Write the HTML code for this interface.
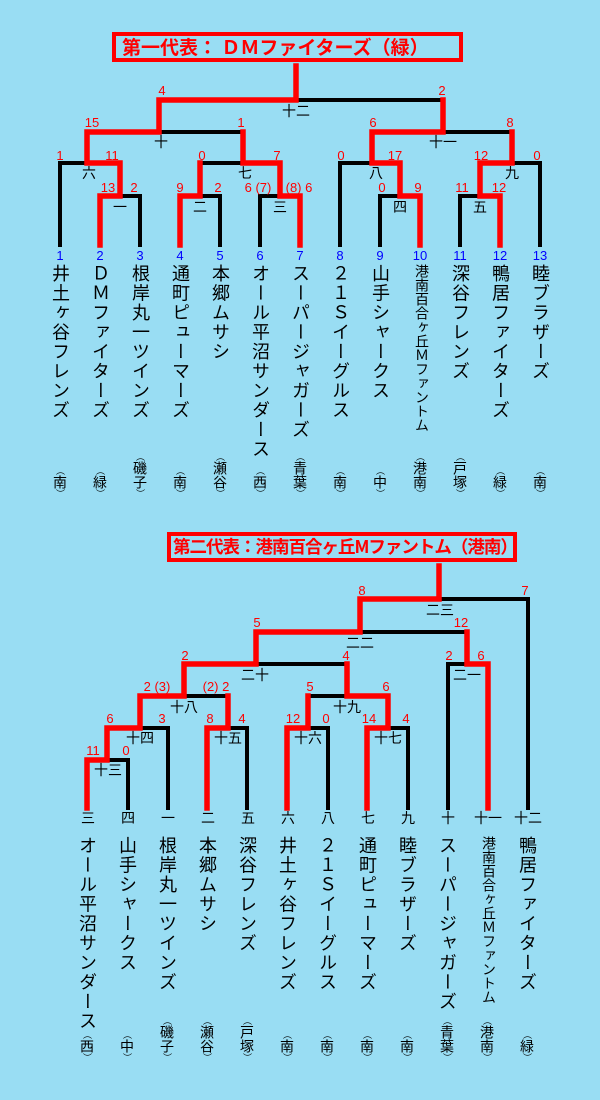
<!DOCTYPE html>
<html><head><meta charset="utf-8">
<style>
body{margin:0;width:600px;height:1100px;background:#99ddf3;position:relative;overflow:hidden;font-family:"Liberation Sans","Noto Sans CJK JP",sans-serif}
svg{position:absolute;left:0;top:0}
.nm{position:absolute;writing-mode:vertical-rl;width:22px;font-size:18px;line-height:22px;color:#000;letter-spacing:1.5px;white-space:nowrap}
.af{position:absolute;writing-mode:vertical-rl;width:18px;font-size:14px;line-height:18px;color:#000;white-space:nowrap}
.af span{font-size:9px}
.title{position:absolute;border:3px solid #f00;outline:1px solid #f00;box-sizing:border-box;color:#f00;font-weight:bold;font-size:19px;line-height:22px;white-space:nowrap;overflow:hidden;font-family:"Noto Sans CJK JP",sans-serif}
</style></head>
<body>
<div class="title" style="left:113px;top:33px;width:349px;height:28px;padding-left:6px">第一代表：&nbsp;ＤＭファイターズ（緑）</div>
<div class="title" style="left:168px;top:533px;width:348px;height:28px;padding-left:2px;font-size:17.5px;letter-spacing:-1px">第二代表：港南百合ヶ丘Mファントム（港南）</div>

<svg width="600" height="1100" fill="none" stroke-linecap="square">
<g stroke="#000" stroke-width="4">
<path d="M296 66V100M159 100H443M159 100V132M443 100V132M87 132H243M372 132H512M87 132V163M243 132V163M372 132V163M512 132V163M60 163H120M200 163H280M340 163H400M480 163H540M60 163V245M120 163V196M200 163V196M280 163V196M340 163V245M400 163V196M480 163V196M540 163V245M100 196H140M180 196H220M260 196H300M380 196H420M460 196H500M100 196V245M140 196V245M180 196V245M220 196V245M260 196V245M300 196V245M380 196V245M420 196V245M460 196V245M500 196V245"/>
<path d="M439 566V599M360 599H528M528 599V808M360 599V632M256 632H467M256 632V664M467 632V664M448 664H488M448 664V808M488 664V808M184 664H347M184 664V696M347 664V696M140 696H228M140 696V728M228 696V728M308 696H388M308 696V728M388 696V728M107 728H168M107 728V760M168 728V808M207 728H247M207 728V808M247 728V808M287 728H328M287 728V808M328 728V808M367 728H408M367 728V808M408 728V808M87 760H128M87 760V808M128 760V808"/>
</g>
<g stroke="#f00" stroke-width="5.5">
<path d="M100 245V196H120V163H87V132H159V100H296V66M180 245V196H200V163M300 245V196H280V163H243V132M420 245V196H400V163H372V132H443V100M500 245V196H480V163H512V132"/>
<path d="M87 808V760H107V728H140V696H184V664H256V632H360V599H439V566M207 808V728H228V696M287 808V728H308V696M367 808V728H388V696H347V664M488 808V664H467V632"/>
</g>
<g fill="#f00" stroke="none" font-size="13" text-anchor="middle" font-family="Liberation Sans, sans-serif">
<text x="162" y="95">4</text><text x="442" y="95">2</text>
<text x="92" y="127">15</text><text x="241" y="127">1</text><text x="373" y="127">6</text><text x="510" y="127">8</text>
<text x="60" y="160">1</text><text x="112" y="160">11</text><text x="202" y="160">0</text><text x="277" y="160">7</text><text x="341" y="160">0</text><text x="395" y="160">17</text><text x="481" y="160">12</text><text x="537" y="160">0</text>
<text x="108" y="192">13</text><text x="134" y="192">2</text><text x="180" y="192">9</text><text x="218" y="192">2</text><text x="258" y="192">6 (7)</text><text x="299" y="192">(8) 6</text><text x="382" y="192">0</text><text x="418" y="192">9</text><text x="462" y="192">11</text><text x="499" y="192">12</text>
<text x="362" y="595">8</text><text x="525" y="595">7</text>
<text x="257" y="627">5</text><text x="461" y="627">12</text>
<text x="185" y="660">2</text><text x="346" y="660">4</text><text x="449" y="660">2</text><text x="481" y="660">6</text>
<text x="157" y="691">2 (3)</text><text x="216" y="691">(2) 2</text><text x="310" y="691">5</text><text x="386" y="691">6</text>
<text x="110" y="723">6</text><text x="162" y="723">3</text><text x="210" y="723">8</text><text x="242" y="723">4</text><text x="293" y="723">12</text><text x="326" y="723">0</text><text x="369" y="723">14</text><text x="406" y="723">4</text>
<text x="93" y="755">11</text><text x="126" y="755">0</text>
</g>
<g fill="#000" stroke="none" font-size="14" text-anchor="middle" font-family="Noto Sans CJK JP, sans-serif">
<text x="296" y="116">十二</text><text x="161" y="147">十</text><text x="443" y="147">十一</text>
<text x="89" y="178">六</text><text x="245" y="178">七</text><text x="376" y="178">八</text><text x="512" y="178">九</text>
<text x="120" y="212">一</text><text x="200" y="212">二</text><text x="280" y="212">三</text><text x="400" y="212">四</text><text x="480" y="212">五</text>
<text x="440" y="615">二三</text><text x="360" y="648">二二</text><text x="255" y="680">二十</text><text x="467" y="680">二一</text>
<text x="184" y="712">十八</text><text x="347" y="712">十九</text>
<text x="140" y="743">十四</text><text x="228" y="743">十五</text><text x="308" y="743">十六</text><text x="388" y="743">十七</text>
<text x="108" y="775">十三</text>
<text x="88" y="823">三</text><text x="128" y="823">四</text><text x="168" y="823">一</text><text x="208" y="823">二</text><text x="248" y="823">五</text><text x="288" y="823">六</text><text x="328" y="823">八</text><text x="368" y="823">七</text><text x="408" y="823">九</text><text x="448" y="823">十</text><text x="488" y="823">十一</text><text x="528" y="823">十二</text>
</g>
<g fill="#00f" stroke="none" font-size="13" text-anchor="middle" font-family="Liberation Sans, sans-serif">
<text x="60" y="260">1</text><text x="100" y="260">2</text><text x="140" y="260">3</text><text x="180" y="260">4</text><text x="220" y="260">5</text><text x="260" y="260">6</text><text x="300" y="260">7</text><text x="340" y="260">8</text><text x="380" y="260">9</text><text x="420" y="260">10</text><text x="460" y="260">11</text><text x="500" y="260">12</text><text x="540" y="260">13</text>
</g>
</svg>

<script>
const topTeams=[["井土ヶ谷フレンズ","南"],["ＤＭファイターズ","緑"],["根岸丸一ツインズ","磯子"],["通町ピューマーズ","南"],["本郷ムサシ","瀬谷"],["オール平沼サンダース","西"],["スーパージャガーズ","青葉"],["２１Ｓイーグルス","南"],["山手シャークス","中"],["港南百合ヶ丘Ｍファントム","港南"],["深谷フレンズ","戸塚"],["鴨居ファイターズ","緑"],["睦ブラザーズ","南"]];
const botTeams=[["オール平沼サンダース","西"],["山手シャークス","中"],["根岸丸一ツインズ","磯子"],["本郷ムサシ","瀬谷"],["深谷フレンズ","戸塚"],["井土ヶ谷フレンズ","南"],["２１Ｓイーグルス","南"],["通町ピューマーズ","南"],["睦ブラザーズ","南"],["スーパージャガーズ","青葉"],["港南百合ヶ丘Ｍファントム","港南"],["鴨居ファイターズ","緑"]];
function place(list,x0,top,bottom){
  list.forEach((t,i)=>{
    const x=x0+i*40;
    const n=document.createElement('div');
    n.className='nm';
    
    
    n.textContent=t[0];
    n.style.left=(x-11)+'px';n.style.top=top+'px';
    if(t[0].length>10){n.style.fontSize='14px';n.style.letterSpacing='0px';n.style.lineHeight='20px';n.style.left=(x-10)+'px';}
    document.body.appendChild(n);
    const a=document.createElement('div');
    a.className='af';
    
    
    a.innerHTML='<span>（</span>'+t[1]+'<span>）</span>';
    a.style.left=(x-9)+'px';a.style.bottom=(1100-bottom)+'px';
    document.body.appendChild(a);
  });
}
place(topTeams,60,264,498);
place(botTeams,87,836,1062);
</script>
</body></html>
